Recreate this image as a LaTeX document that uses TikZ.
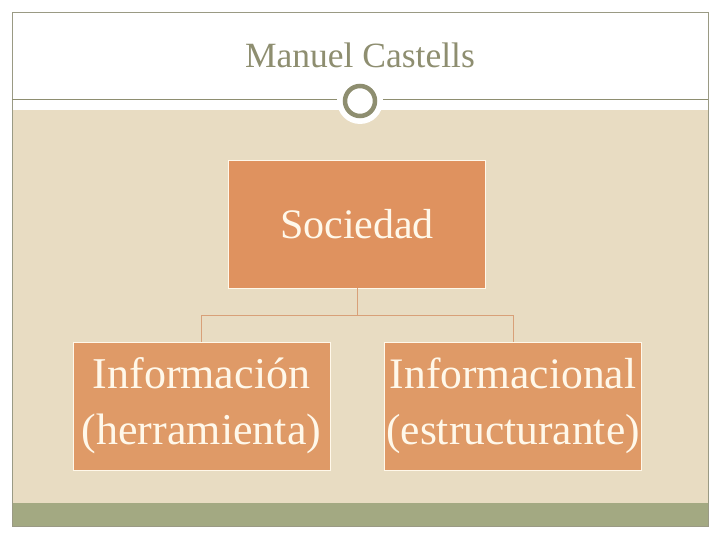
\documentclass[tikz,border=0pt]{standalone}
\usepackage{fontspec}
\setmainfont{Liberation Serif}
\definecolor{tanbg}{HTML}{E8DCC2}
\definecolor{boxmain}{HTML}{DF925F}
\definecolor{boxchild}{HTML}{DF9A67}
\definecolor{cream}{HTML}{FFF8EA}
\definecolor{olive}{HTML}{8E8E70}
\definecolor{band}{HTML}{A3A982}
\definecolor{conn}{HTML}{D8A078}
\definecolor{frame}{HTML}{9A9A84}
\tikzset{
  orgbox/.style={draw=cream, line width=0.8pt, text=cream, align=center, inner sep=0pt, minimum width=257pt, minimum height=128pt},
  conline/.style={draw=conn, line width=0.8pt},
}
\begin{document}
\begin{tikzpicture}[x=1pt,y=-1pt]
\useasboundingbox (0,0) rectangle (720,540);
\fill[white] (0,0) rectangle (720,540);
% tan area and band
\fill[tanbg] (12,110) rectangle (708,503);
\fill[band] (12,503) rectangle (708,526);
\draw[frame, line width=0.8pt] (12,12) rectangle (708,526);
% rule line
\draw[olive, line width=1pt] (12,100) -- (708,100);
% circle
\fill[white] (360,101) circle (23);
\draw[olive, line width=4.5pt] (360,101) circle (15);
% title
\node[text=olive, font=\fontsize{35.5}{40}\selectfont] (title) at (360,55) {Manuel Castells};
% boxes
\node[orgbox, fill=boxmain, font=\fontsize{42}{48}\selectfont] (soc) at (357,224) {Sociedad};
\node[orgbox, fill=boxchild, font=\fontsize{44}{56}\selectfont] (inf) at (201.5,406) {Información\\(herramienta)};
\node[orgbox, fill=boxchild, font=\fontsize{43.5}{56}\selectfont] (infl) at (513,406) {Informacional\\(estructurante)};
% connectors
\coordinate (mid) at (357,315);
\draw[conline] (soc.south) -- (mid) -| (inf.north);
\draw[conline] (mid) -| (infl.north);
\end{tikzpicture}
\end{document}
